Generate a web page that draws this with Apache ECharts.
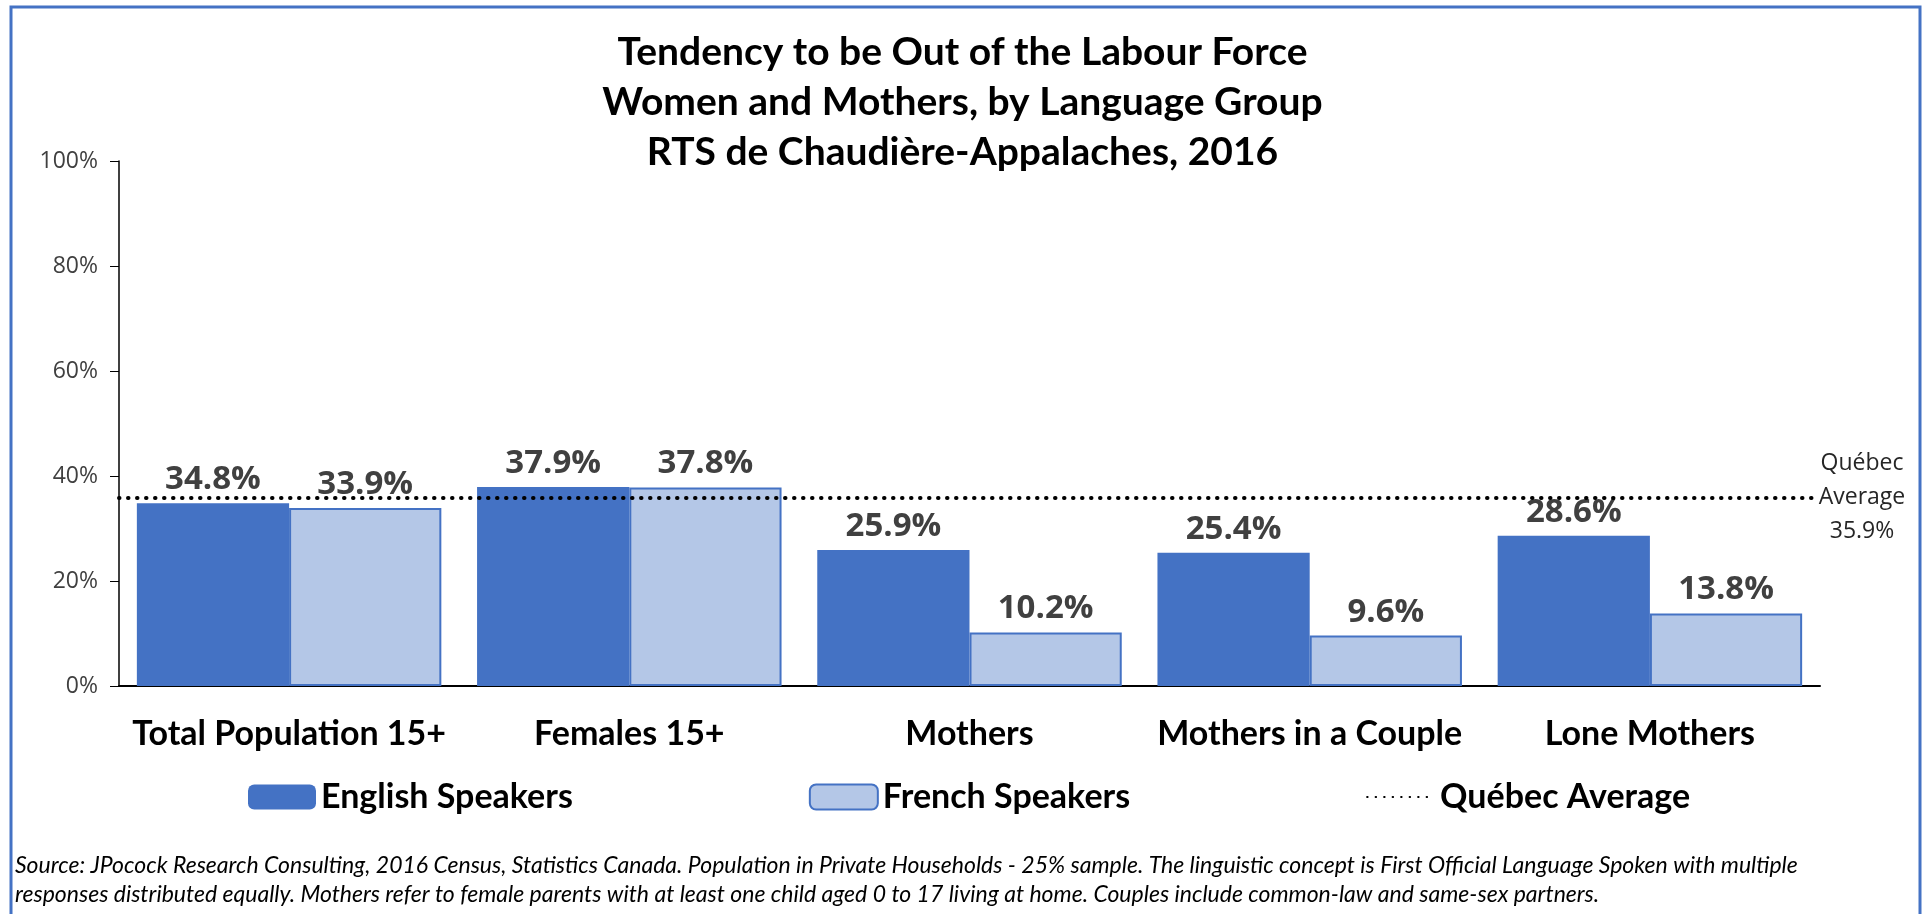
<!DOCTYPE html>
<html lang="en">

<head>
    <meta charset="UTF-8">
    <script src="https://cdn.jsdelivr.net/npm/echarts@6/dist/echarts.min.js"></script>
    <style>
        html, body {
            margin: 0;
            padding: 0;
            background-color: #ffffff;
        }
    </style>
</head>

<body>
    <div id="main" style="width: 1925px;height:914px;"></div>
    <script type="text/javascript">
        // data
        const categories = ['Total Population 15+', 'Females 15+', 'Mothers', 'Mothers in a Couple', 'Lone Mothers'];
        const englishSpeakers = [34.8, 37.9, 25.9, 25.4, 28.6];
        const frenchSpeakers = [33.9, 37.8, 10.2, 9.6, 13.8];
        const quebecAverage = 35.9;
        const yTicks = [0, 20, 40, 60, 80, 100];

        const titleLines = [
            'Tendency to be Out of the Labour Force',
            'Women and Mothers, by Language Group',
            'RTS de Chaudière-Appalaches, 2016'
        ];
        const noteLines = [
            'Source: JPocock Research Consulting, 2016 Census, Statistics Canada. Population in Private Households - 25% sample. The linguistic concept is First Official Language Spoken with multiple',
            'responses distributed equally. Mothers refer to female parents with at least one child aged 0 to 17 living at home. Couples include common-law and same-sex partners.'
        ];

        const calibriLike = 'Lato, "Noto Sans", sans-serif';
        const segoeLike = '"Open Sans", "Noto Sans", sans-serif';

        var myChart = echarts.init(document.getElementById('main'));

        var valueLabel = {
            show: true,
            position: 'top',
            distance: 7,
            fontFamily: segoeLike,
            fontWeight: 'bold',
            fontSize: 33,
            color: '#404040',
            formatter: p => p.value.toFixed(1) + '%'
        };

        myChart.setOption({
            animation: false,
            title: {
                text: titleLines.join('\n'),
                left: 'center',
                top: 22,
                textStyle: {
                    fontFamily: calibriLike,
                    fontSize: 39,
                    fontWeight: 'bold',
                    lineHeight: 50,
                    color: '#000'
                }
            },
            legend: {
                left: 243,
                top: 775,
                itemWidth: 68,
                itemHeight: 25,
                itemGap: 236,
                textStyle: {
                    fontFamily: calibriLike,
                    fontSize: 34,
                    fontWeight: 'bold',
                    color: '#000'
                },
                data: [
                    'English Speakers',
                    'French Speakers',
                    { name: 'Québec Average', itemStyle: { opacity: 0 } }
                ]
            },
            grid: {
                left: 119,
                right: 105,
                top: 161,
                bottom: 228,
                containLabel: false
            },
            xAxis: {
                type: 'category',
                data: categories,
                axisLine: { lineStyle: { color: '#000', width: 2 } },
                axisTick: { show: false },
                axisLabel: {
                    interval: 0,
                    margin: 31,
                    fontFamily: calibriLike,
                    fontSize: 34,
                    fontWeight: 'bold',
                    color: '#000'
                }
            },
            yAxis: {
                type: 'value',
                min: yTicks[0],
                max: yTicks[yTicks.length - 1],
                interval: 20,
                axisLine: { show: true, lineStyle: { color: '#000', width: 1.5 } },
                axisTick: { show: true, length: 9, lineStyle: { color: '#000' } },
                splitLine: { show: false },
                axisLabel: {
                    margin: 21,
                    fontFamily: segoeLike,
                    fontSize: 23,
                    color: '#404040',
                    formatter: '{value}%'
                }
            },
            series: [
                {
                    name: 'English Speakers',
                    type: 'bar',
                    data: englishSpeakers,
                    barGap: '0%',
                    barCategoryGap: '10.5%',
                    itemStyle: { color: '#4472C4' },
                    label: valueLabel
                },
                {
                    name: 'French Speakers',
                    type: 'bar',
                    data: frenchSpeakers,
                    itemStyle: { color: '#B4C7E7', borderColor: '#4472C4', borderWidth: 2 },
                    label: valueLabel
                },
                {
                    name: 'Québec Average',
                    type: 'line',
                    data: [],
                    symbol: 'none',
                    itemStyle: { color: '#000' },
                    lineStyle: { color: '#000', width: 3.5, type: [0.5, 8], cap: 'round' },
                    markLine: {
                        silent: true,
                        symbol: ['none', 'none'],
                        data: [{ yAxis: quebecAverage }],
                        lineStyle: { color: '#000', width: 4, type: [0.5, 8.5], cap: 'round' },
                        label: {
                            position: 'end',
                            distance: 42,
                            fontFamily: segoeLike,
                            fontSize: 23,
                            lineHeight: 34,
                            align: 'center',
                            color: '#262626',
                            formatter: 'Québec\nAverage\n' + quebecAverage.toFixed(1) + '%'
                        }
                    }
                }
            ],
            graphic: [
                {
                    type: 'rect',
                    shape: { x: 11, y: 7, width: 1909, height: 930 },
                    style: { fill: 'none', stroke: '#4472C4', lineWidth: 3 },
                    silent: true
                },
                {
                    type: 'text',
                    left: 15,
                    top: 851,
                    style: {
                        text: noteLines.join('\n'),
                        fontFamily: calibriLike,
                        fontStyle: 'italic',
                        fontSize: 23,
                        lineHeight: 29,
                        fill: '#000'
                    }
                }
            ]
        });
    </script>
</body>

</html>
